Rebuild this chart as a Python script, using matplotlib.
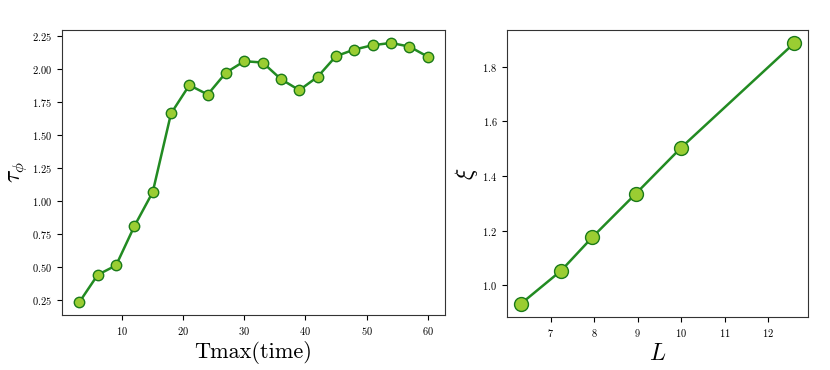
import matplotlib
matplotlib.use("Agg")
import matplotlib.pyplot as plt
import numpy as np

# datos
tmax = [3, 6, 9, 12, 15, 18, 21, 24, 27, 30, 33, 36, 39, 42, 45, 48, 51, 54, 57, 60]
tau_phi = [0.237, 0.443, 0.514, 0.811, 1.068, 1.663, 1.877, 1.806, 1.972, 2.058,
           2.048, 1.922, 1.839, 1.940, 2.096, 2.146, 2.179, 2.196, 2.169, 2.093]

L_vals = [6.31, 7.24, 7.96, 8.95, 10.0, 12.6]
xi_vals = [0.931, 1.053, 1.176, 1.334, 1.504, 1.887]

plt.rcParams['font.family'] = ['cmr10', 'DejaVu Serif']
plt.rcParams['mathtext.fontset'] = 'cm'
plt.rcParams['axes.formatter.use_mathtext'] = True
plt.rcParams['axes.edgecolor'] = '#333333'

fig = plt.figure(figsize=(8.3, 3.7), dpi=100)
ax1 = fig.add_axes([62/830, 1 - 315/370, 383/830, 285/370])
ax2 = fig.add_axes([507/830, 1 - 317/370, 301/830, 287/370])

# panel izquierdo
ax1.plot(tmax, tau_phi, '-o', color='#228B22', lw=1.8, ms=7.5,
         mfc='#9ACD32', mec='#1a7a1a', mew=1.0)
ax1.set_xlabel('Tmax(time)', fontsize=16, labelpad=3)
ax1.set_ylabel(r'$\tau_\phi$', fontsize=17, labelpad=2)
ax1.set_yticks([0.25, 0.5, 0.75, 1.0, 1.25, 1.5, 1.75, 2.0, 2.25])
ax1.set_xticks([10, 20, 30, 40, 50, 60])
ax1.tick_params(labelsize=7.5)

# panel derecho
ax2.plot(L_vals, xi_vals, '-o', color='#228B22', lw=1.8, ms=10,
         mfc='#9ACD32', mec='#1a7a1a', mew=1.0)
ax2.set_xlabel(r'$L$', fontsize=17, labelpad=3)
ax2.set_ylabel(r'$\xi$', fontsize=17, labelpad=2)
ax2.set_xticks([7, 8, 9, 10, 11, 12])
ax2.set_yticks([1.0, 1.2, 1.4, 1.6, 1.8])
ax2.tick_params(labelsize=7.5)

fig.savefig('out.png', dpi=100)
